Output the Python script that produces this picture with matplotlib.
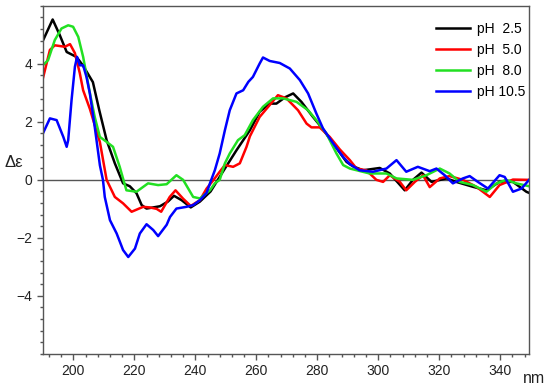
import matplotlib
matplotlib.use("Agg")
import matplotlib.pyplot as plt
from matplotlib.ticker import MultipleLocator

plt.rcParams['font.family'] = ['Liberation Sans', 'DejaVu Sans']

# pH 2.5 (black)
x_ph25 = [190, 193.2, 195.5, 197.8, 201, 203.1, 206.4, 208.5, 210.9, 213.6, 216.3, 218.5, 220.7,
          222.4, 224, 228.4, 231, 233, 235.5, 238.5, 241.5, 245, 249.7, 253.5, 257.9, 261.1, 264.4,
          266.6, 269.5, 272.1, 274.8, 278.6, 281.4, 285.2, 289.6, 291.7, 295, 300.5, 303.8, 308.7,
          311.4, 314.2, 317.5, 322.4, 325.6, 331.1, 335.5, 339.8, 344.2, 348.6, 349.5]
y_ph25 = [4.8, 5.53, 5.0, 4.41, 4.24, 3.95, 3.37, 2.4, 1.37, 0.57, -0.12, -0.22, -0.46,
          -0.87, -0.99, -0.91, -0.75, -0.55, -0.7, -0.95, -0.75, -0.4, 0.39, 1.02, 1.71, 2.35, 2.63,
          2.63, 2.85, 2.98, 2.69, 2.17, 1.81, 1.26, 0.62, 0.47, 0.33, 0.41, 0.22, -0.36,
          0.0, 0.25, -0.07, 0.05, -0.07, -0.24, -0.36, -0.07, -0.07, -0.41, -0.45]

# pH 5.0 (red)
x_ph50 = [190, 192.3, 193.9, 197.2, 198.9, 200.5, 202.1, 203.2, 205.4, 208.7, 210.9, 213.6, 216.3,
          219.1, 222.9, 225, 227.3, 228.8, 231.6, 233.5, 236, 238.5, 241.5, 243.7, 246, 248, 249.7,
          252.4, 254.6, 256.8, 257.9, 261.1, 264.4, 267.1, 269.9, 273.7, 276.5, 278.1, 280.8, 284.1,
          287.4, 290.7, 292.9, 296.1, 299.4, 301.6, 303.8, 307.1, 309.2, 312, 314.7, 316.9, 320.2,
          323.4, 327.8, 332.2, 336.6, 339.8, 344.2, 349.5]
y_ph50 = [3.5, 4.48, 4.64, 4.59, 4.68, 4.37, 3.68, 3.09, 2.45, 1.3, 0.0, -0.59, -0.81,
          -1.1, -0.93, -0.95, -1.0, -1.1, -0.59, -0.36, -0.65, -0.9, -0.7, -0.3, 0.0, 0.28, 0.51,
          0.45, 0.57, 1.14, 1.5, 2.17, 2.58, 2.92, 2.81, 2.4, 1.94, 1.81, 1.81, 1.48,
          1.05, 0.68, 0.39, 0.33, 0.0, -0.07, 0.16, -0.07, -0.36, -0.07, 0.16, -0.25, 0.05,
          0.13, 0.0, -0.24, -0.59, -0.18, 0.01, 0.0]

# pH 8.0 (green)
x_ph80 = [190, 191.7, 193.9, 196.1, 198.3, 199.9, 201.6, 203.2, 205.4, 207, 208.7, 210.9, 213,
          215.2, 217.4, 220.7, 224.5, 227.8, 230.6, 233.8, 236, 239.3, 241.5, 244.8, 246.4, 248,
          249.7, 251.3, 254, 256.2, 258.9, 262.2, 265.5, 268.8, 273.2, 277, 279.7, 283, 286.3,
          288.5, 290.7, 297.2, 302.7, 306, 311.4, 315.8, 320.2, 323.4, 326.7, 331.1, 335.5, 338.8,
          342, 345.3, 349.5]
y_ph80 = [3.95, 4.13, 4.82, 5.22, 5.33, 5.28, 4.93, 4.24, 3.0, 2.17, 1.48, 1.31, 1.14,
          0.45, -0.36, -0.41, -0.12, -0.18, -0.15, 0.16, 0.0, -0.59, -0.64, -0.36, -0.12, 0.0,
          0.57, 0.91, 1.37, 1.54, 2.06, 2.52, 2.81, 2.81, 2.69, 2.4, 2.06, 1.6, 0.91,
          0.51, 0.39, 0.22, 0.22, 0.05, 0.0, 0.16, 0.39, 0.22, -0.07, -0.18, -0.41, -0.12,
          0.0, -0.12, -0.22]

# pH 10.5 (blue)
x_ph105 = [190, 192.3, 194.5, 196.7, 197.8, 198.3, 199.4, 200.5, 201.2, 202.1, 203.2, 204.3, 205.4,
           207, 208.7, 209.7, 210.3, 212, 214.2, 216.3, 218, 220.2, 221.8, 224, 226.2, 227.8, 230.6,
           231.7, 233.8, 237.1, 239.3, 241.5, 243.7, 244.8, 246.4, 248, 249.7, 251.3, 253.5, 255.7,
           257.4, 258.9, 261.1, 262.2, 264.4, 267.7, 271, 274.3, 277, 279.7, 281.9, 285.2, 288.5,
           290.7, 293.9, 298.3, 302.7, 306, 309.2, 313, 316.9, 319.1, 321.8, 324.5, 327.8, 330,
           332.7, 336, 339.8, 341.5, 344.2, 347, 349.5]
y_ph105 = [1.6, 2.12, 2.06, 1.48, 1.14, 1.37, 2.75, 3.9, 4.24, 3.95, 3.95, 3.55, 2.98,
           1.83, 0.5, 0.0, -0.59, -1.39, -1.85, -2.42, -2.66, -2.37, -1.85, -1.53, -1.73, -1.94, -1.55,
           -1.28, -0.99, -0.93, -0.87, -0.7, -0.45, -0.12, 0.33, 0.91, 1.71, 2.4, 2.98, 3.09,
           3.38, 3.55, 4.01, 4.22, 4.1, 4.03, 3.84, 3.44, 2.98, 2.29, 1.77, 1.26, 0.79,
           0.54, 0.33, 0.28, 0.39, 0.68, 0.28, 0.45, 0.3, 0.39, 0.16, -0.12, 0.05, 0.13,
           -0.07, -0.3, 0.16, 0.1, -0.41, -0.3, 0.0]

labels = ["pH  2.5", "pH  5.0", "pH  8.0", "pH 10.5"]
colors = ["#000000", "#ff0000", "#22e022", "#0000ff"]

fig = plt.figure(figsize=(5.5, 3.91), dpi=100)
ax = fig.add_axes([0.078, 0.095, 0.884, 0.89])

series = [(x_ph25, y_ph25), (x_ph50, y_ph50), (x_ph80, y_ph80), (x_ph105, y_ph105)]
ax.axhline(0, color="#555555", lw=1.0, zorder=1)
for (xs, ys), c, lab in zip(series, colors, labels):
    ax.plot(xs, ys, color=c, lw=1.8, label=lab, zorder=2, solid_joinstyle="round")

ax.set_xlim(190, 349.5)
ax.set_ylim(-6, 6)
ax.xaxis.set_major_locator(MultipleLocator(20))
ax.xaxis.set_minor_locator(MultipleLocator(4))
ax.set_yticks([-4, -2, 0, 2, 4])
ax.yaxis.set_minor_locator(MultipleLocator(0.4))
ax.tick_params(which="both", direction="out", colors="#555555", labelcolor="#222222",
               labelsize=10)
ax.tick_params(which="major", length=4, width=1)
ax.tick_params(which="minor", length=2.5, width=1)
for s in ax.spines.values():
    s.set_color("#555555")
    s.set_linewidth(1.0)

fig.text(0.026, 0.585, "Δε", fontsize=12, ha="center", va="center", color="#222222")
fig.text(0.97, 0.033, "nm", fontsize=11.5, ha="center", va="center", color="#222222")

leg = ax.legend(loc="upper right", bbox_to_anchor=(1.0, 0.965), frameon=False, fontsize=10,
                handlelength=2.5, labelspacing=0.5, borderaxespad=0.0, borderpad=0.3,
                handletextpad=0.45)

fig.savefig("out.png", dpi=100)
